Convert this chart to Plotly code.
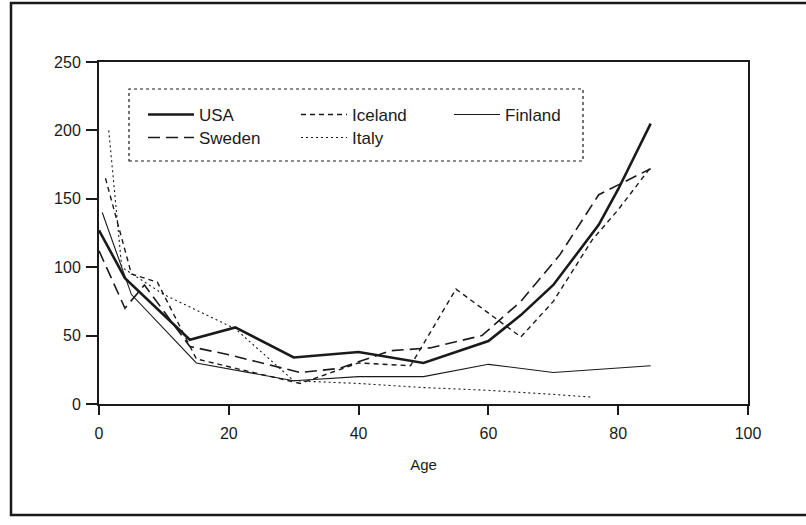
import plotly.graph_objects as go

usa_age = [0, 4, 14, 21, 30, 40, 50, 60, 65, 70, 77, 80, 85]
usa_val = [127, 92, 47, 56, 34, 38, 30, 46, 65, 87, 131, 157, 205]

iceland_age = [1, 5, 9, 15, 22, 31, 40, 48, 55, 65, 70, 76, 80, 85]
iceland_val = [165, 95, 89, 33, 25, 15, 30, 28, 84, 49, 75, 120, 142, 173]

finland_age = [0.5, 5, 15, 22, 30, 40, 50, 60, 70, 85]
finland_val = [140, 80, 30, 24, 17, 20, 20, 29, 23, 28]

sweden_age = [0, 4, 7, 14, 20, 27, 31, 37, 45, 51, 59, 65, 71, 77, 80, 85]
sweden_val = [112, 70, 87, 42, 36, 28, 23, 26, 39, 41, 50, 75, 109, 153, 160, 172]

italy_age = [1.5, 3.5, 10, 21, 30, 40, 50, 60, 70, 76]
italy_val = [200, 100, 80, 55, 17, 15, 12, 10, 7, 5]

x_ticks = [0, 20, 40, 60, 80, 100]
y_ticks = [0, 50, 100, 150, 200, 250]

FONT = "Liberation Sans"
INK = "#1a1a1a"

fig = go.Figure()
fig.add_trace(go.Scatter(x=usa_age, y=usa_val, mode="lines", name="USA",
                         line=dict(color=INK, width=2.6), legend="legend"))
fig.add_trace(go.Scatter(x=iceland_age, y=iceland_val, mode="lines", name="Iceland",
                         line=dict(color=INK, width=1.4, dash="5px,4px"), legend="legend"))
fig.add_trace(go.Scatter(x=finland_age, y=finland_val, mode="lines", name="Finland",
                         line=dict(color=INK, width=1.1), legend="legend"))
fig.add_trace(go.Scatter(x=sweden_age, y=sweden_val, mode="lines", name="Sweden",
                         line=dict(color=INK, width=1.6, dash="12px,6px"), legend="legend2"))
fig.add_trace(go.Scatter(x=italy_age, y=italy_val, mode="lines", name="Italy",
                         line=dict(color=INK, width=1.1, dash="2px,3px"), legend="legend2"))

leg_common = dict(orientation="h", xref="container", yref="container",
                  xanchor="left", yanchor="top", bgcolor="rgba(0,0,0,0)",
                  borderwidth=0, font=dict(family=FONT, size=17, color=INK),
                  entrywidth=92, itemwidth=46, tracegroupgap=0)

fig.update_layout(
    width=806, height=525,
    margin=dict(l=99, r=58, t=62, b=121, autoexpand=False),
    paper_bgcolor="white", plot_bgcolor="white",
    font=dict(family=FONT, size=16, color=INK),
    showlegend=True,
    legend=dict(x=143 / 806, y=1 - 97 / 525, **leg_common),
    legend2=dict(x=143 / 806, y=1 - 120 / 525, **leg_common),
    xaxis=dict(range=[0, 100], tickvals=x_ticks, ticktext=[str(v) for v in x_ticks],
               showgrid=False, zeroline=False, showline=True, mirror=True,
               linecolor=INK, linewidth=2, ticks="outside", ticklen=9,
               tickcolor=INK, tickwidth=1.5, ticklabelstandoff=5,
               tickfont=dict(family=FONT, size=16),
               title=dict(text="Age", font=dict(family=FONT, size=15), standoff=18)),
    yaxis=dict(range=[0, 250], tickvals=y_ticks, ticktext=[str(v) for v in y_ticks],
               showgrid=False, zeroline=False, showline=True, mirror=True,
               linecolor=INK, linewidth=2, ticks="outside", ticklen=11,
               tickcolor=INK, tickwidth=1.5, ticklabelstandoff=2,
               tickfont=dict(family=FONT, size=16)),
    shapes=[
        # outer frame of the scanned figure
        dict(type="rect", xref="paper", yref="paper",
             x0=(11 - 99) / 649, x1=(812 - 99) / 649,
             y0=(404 - 515) / 342, y1=(404 - 3) / 342,
             line=dict(color=INK, width=2.5), fillcolor="rgba(0,0,0,0)", layer="below"),
        # legend box
        dict(type="rect", xref="paper", yref="paper",
             x0=(129 - 99) / 649, x1=(583 - 99) / 649,
             y0=(404 - 161) / 342, y1=(404 - 89) / 342,
             line=dict(color=INK, width=1.2, dash="dot"), fillcolor="rgba(0,0,0,0)"),
    ],
)

fig.write_html("out.html", config={"displayModeBar": False},
               post_script="document.body.style.margin='0';")
